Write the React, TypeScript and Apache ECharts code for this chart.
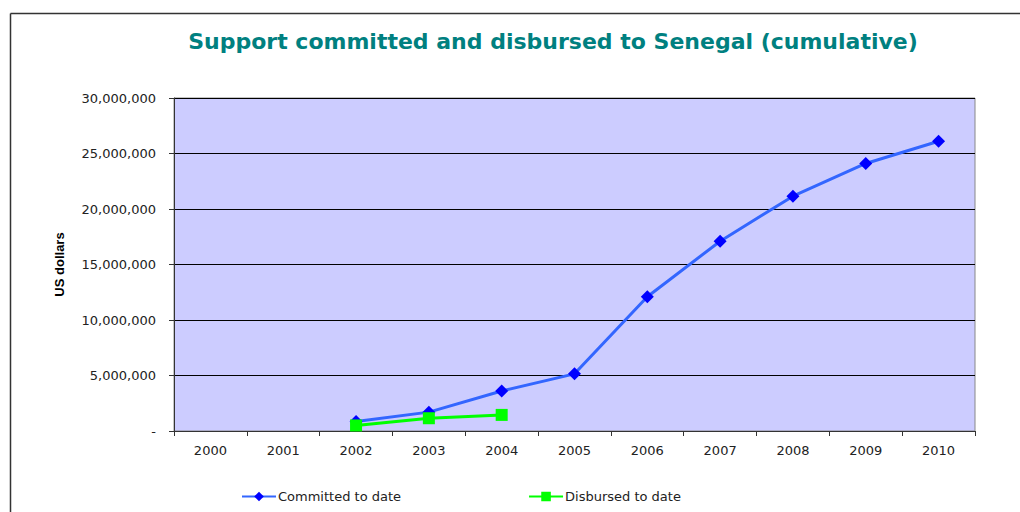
import React, { useEffect, useRef } from "react";
import * as echarts from "echarts";

const years = ["2000", "2001", "2002", "2003", "2004", "2005", "2006", "2007", "2008", "2009", "2010"];
const committed = [null, null, 850000, 1700000, 3600000, 5150000, 12100000, 17100000, 21150000, 24100000, 26100000];
const disbursed = [null, null, 500000, 1150000, 1450000, null, null, null, null, null, null];
const titleText = "Support committed and disbursed to Senegal (cumulative)";
const yAxisName = "US dollars";
const seriesNames = ["Committed to date", "Disbursed to date"];

function fmt(v: number): string {
  if (v === 0) return "-";
  return String(v).replace(/\B(?=(\d{3})+(?!\d))/g, ",");
}

export default function App() {
  const ref = useRef<HTMLDivElement>(null);
  useEffect(() => {
    document.body.style.margin = "0";
    const chart = echarts.init(ref.current!, null, { renderer: "svg" });
    const font = "'DejaVu Sans', sans-serif";
    chart.setOption({
      animation: false,
      backgroundColor: "#ffffff",
      graphic: [
        { type: "line", shape: { x1: 10.5, y1: 13.5, x2: 1020, y2: 13.5 }, style: { stroke: "#333", lineWidth: 1.5 } },
        { type: "line", shape: { x1: 10.5, y1: 13.5, x2: 10.5, y2: 512 }, style: { stroke: "#333", lineWidth: 1.5 } },
        {
          type: "text",
          x: 553,
          y: 41,
          style: {
            text: titleText,
            fill: "#008080",
            font: "bold 22px 'DejaVu Sans', sans-serif",
            textAlign: "center",
            textVerticalAlign: "middle",
          },
        },
      ],
      grid: { left: 174, right: 45, top: 98, bottom: 81, show: true, backgroundColor: "#CCCCFF", borderColor: "#888", borderWidth: 1 },
      legend: {
        left: 236,
        top: 485,
        itemGap: 127,
        itemWidth: 34,
        itemHeight: 12,
        textStyle: { fontFamily: font, fontSize: 13, color: "#222", padding: [0, 0, 0, -3] },
        data: seriesNames,
      },
      xAxis: {
        type: "category",
        data: years,
        boundaryGap: true,
        axisLine: { lineStyle: { color: "#333", width: 1 } },
        axisTick: { show: true, alignWithLabel: false, length: 5, lineStyle: { color: "#333" } },
        axisLabel: { fontFamily: font, fontSize: 13, color: "#222", margin: 13 },
      },
      yAxis: {
        type: "value",
        min: 0,
        max: 30000000,
        interval: 5000000,
        name: yAxisName,
        nameLocation: "middle",
        nameGap: 108,
        nameTextStyle: { fontFamily: "Arial, 'Liberation Sans', sans-serif", fontSize: 13, fontWeight: "bold", color: "#000" },
        axisLine: { show: true, lineStyle: { color: "#333" } },
        axisTick: { show: true, length: 5, lineStyle: { color: "#333" } },
        axisLabel: { fontFamily: font, fontSize: 13, color: "#222", margin: 18, formatter: (v: number) => fmt(v) },
        splitLine: { show: true, lineStyle: { color: "#000", width: 1 } },
      },
      series: [
        {
          name: seriesNames[0],
          type: "line",
          data: committed,
          symbol: "diamond",
          symbolSize: 13,
          lineStyle: { color: "#3366FF", width: 3 },
          itemStyle: { color: "#0000FF" },
          connectNulls: false,
        },
        {
          name: seriesNames[1],
          type: "line",
          data: disbursed,
          symbol: "rect",
          symbolSize: 12,
          lineStyle: { color: "#00FF00", width: 3 },
          itemStyle: { color: "#00FF00" },
          connectNulls: false,
        },
      ],
    });
    return () => chart.dispose();
  }, []);
  return <div ref={ref} style={{ width: 1020, height: 512 }} />;
}
